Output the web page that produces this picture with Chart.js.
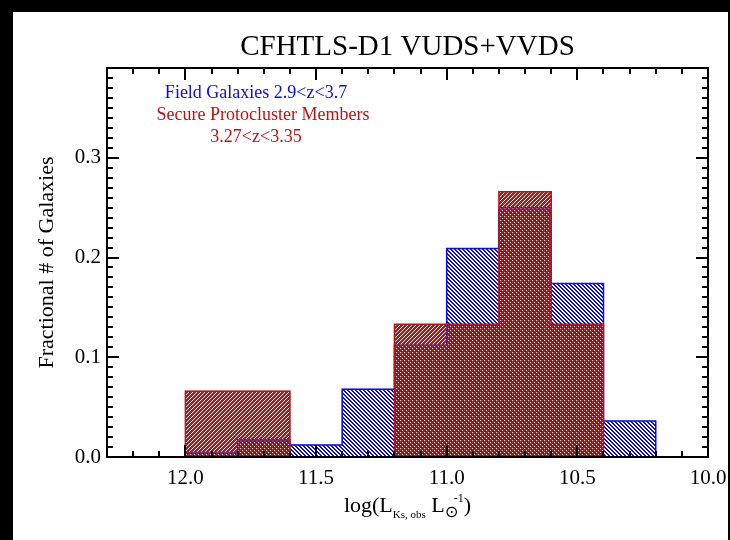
<!DOCTYPE html>
<html>
<head>
<meta charset="utf-8">
<script src="https://cdn.jsdelivr.net/npm/chart.js@4"></script>
<style>
  html, body { margin: 0; padding: 0; background: #000; }
  #frame { position: absolute; left: 13px; top: 12px; width: 715px; height: 528px; background: #fff; }
</style>
</head>
<body>
<div id="frame"><canvas id="histChart" width="715" height="528"></canvas></div>
<script>
// histogram bins (log L, 0.2 dex wide), axis runs high -> low
const binCenters = [11.9, 11.7, 11.5, 11.3, 11.1, 10.9, 10.7, 10.5, 10.3];
const binEdges = [12.0, 11.8, 11.6, 11.4, 11.2, 11.0, 10.8, 10.6, 10.4, 10.2];
const fieldFrac = [0.004, 0.017, 0.012, 0.068, 0.112, 0.209, 0.250, 0.174, 0.036];
const protoFrac = [0.066, 0.066, 0, 0, 0.133, 0.133, 0.266, 0.133, 0];
const xTicks = [12.0, 11.5, 11.0, 10.5, 10.0];
const yTicks = [0.0, 0.1, 0.2, 0.3];
const xMinorStep = 0.1;
const yMinorStep = 0.01;

const BLUE = '#0a0af5';
const RED = '#c01010';
const SERIF = '"Liberation Serif", "Times New Roman", serif';

const canvas = document.getElementById('histChart');
const ctx = canvas.getContext('2d');

// line-fill pattern, dir 1 = "/" , dir -1 = "\"
function hatch(color, dir, on) {
    const c = document.createElement('canvas');
    c.width = c.height = 4;
    const g = c.getContext('2d');
    g.fillStyle = color;
    for (let y = 0; y < 4; y++) {
        for (let x = 0; x < 4; x++) {
            const k = dir > 0 ? (x + y) % 4 : (x - y + 4) % 4;
            if (k < on) g.fillRect(x, y, 1, 1);
        }
    }
    return ctx.createPattern(c, 'repeat');
}

// outline of a histogram as a stepped line
function stepOutline(values) {
    const pts = [{ x: binEdges[0], y: 0 }];
    values.forEach((v, i) => pts.push({ x: binEdges[i], y: v }));
    pts.push({ x: binEdges[values.length], y: 0 });
    return pts;
}

function toPoints(values) {
    return binCenters.map((c, i) => ({ x: c, y: values[i] }));
}

// ================= FRAME, TICKS, TEXT =================
const frameTicks = {
    id: 'frameTicks',
    afterDraw(chart) {
        const { ctx, chartArea: a, scales: { x, y } } = chart;
        ctx.save();
        ctx.strokeStyle = '#000';
        ctx.lineWidth = 2;
        ctx.strokeRect(a.left, a.top, a.right - a.left, a.bottom - a.top);

        ctx.beginPath();
        // x ticks, bottom and top
        for (let v = x.min; v <= x.max + 1e-6; v += xMinorStep) {
            const px = Math.round(x.getPixelForValue(v));
            const major = xTicks.some(t => Math.abs(t - v) < 1e-6);
            const len = major ? 12 : 6;
            ctx.moveTo(px, a.bottom); ctx.lineTo(px, a.bottom - len);
            ctx.moveTo(px, a.top); ctx.lineTo(px, a.top + len);
        }
        // y ticks, left and right
        for (let v = y.min; v <= y.max + 1e-6; v += yMinorStep) {
            const py = Math.round(y.getPixelForValue(v));
            const major = yTicks.some(t => Math.abs(t - v) < 1e-6);
            const len = major ? 12 : 6;
            ctx.moveTo(a.left, py); ctx.lineTo(a.left + len, py);
            ctx.moveTo(a.right, py); ctx.lineTo(a.right - len, py);
        }
        ctx.stroke();

        // title
        ctx.fillStyle = '#000';
        ctx.textAlign = 'center';
        ctx.textBaseline = 'middle';
        ctx.font = '29px ' + SERIF;
        ctx.fillText('CFHTLS-D1 VUDS+VVDS', (a.left + a.right) / 2, 35);

        // legend text
        ctx.font = '18px ' + SERIF;
        ctx.fillStyle = BLUE;
        ctx.fillText('Field Galaxies 2.9<z<3.7', a.left + 149, a.top + 25);
        ctx.fillStyle = RED;
        ctx.fillText('Secure Protocluster Members', a.left + 156, a.top + 47);
        ctx.fillText('3.27<z<3.35', a.left + 149, a.top + 69);

        // x-axis title with sub/superscripts
        const parts = [
            { t: 'log(L', size: 22, dy: 0 },
            { t: 'Ks, obs', size: 11, dy: 6 },
            { t: ' L', size: 22, dy: 0 },
            { t: '\u2299', size: 16, dy: 5 },
            { t: '-1', size: 12, dy: -10, back: 4 },
            { t: ')', size: 22, dy: 0 }
        ];
        ctx.fillStyle = '#000';
        ctx.textAlign = 'left';
        ctx.textBaseline = 'alphabetic';
        let total = 0;
        parts.forEach(p => {
            ctx.font = p.size + 'px ' + SERIF;
            p.w = ctx.measureText(p.t).width;
            total += p.w - (p.back || 0);
        });
        let cx = (a.left + a.right) / 2 - total / 2;
        const base = 500;
        parts.forEach(p => {
            ctx.font = p.size + 'px ' + SERIF;
            cx -= (p.back || 0);
            ctx.fillText(p.t, cx, base + p.dy);
            cx += p.w;
        });
        ctx.restore();
    }
};

// ================= CHART =================
new Chart(canvas, {
    type: 'bar',
    data: {
        datasets: [
            {
                label: 'Secure Protocluster Members',
                data: toPoints(protoFrac),
                backgroundColor: hatch(RED, 1, 3),
                borderWidth: 0,
                grouped: false,
                barPercentage: 1,
                categoryPercentage: 1,
                order: 2
            },
            {
                type: 'line',
                data: stepOutline(protoFrac),
                borderColor: RED,
                borderWidth: 1.5,
                stepped: 'before',
                pointRadius: 0,
                fill: false,
                order: 1
            },
            {
                label: 'Field Galaxies',
                data: toPoints(fieldFrac),
                backgroundColor: hatch(BLUE, -1, 2),
                borderWidth: 0,
                grouped: false,
                barPercentage: 1,
                categoryPercentage: 1,
                order: 4
            },
            {
                type: 'line',
                data: stepOutline(fieldFrac),
                borderColor: BLUE,
                borderWidth: 1.5,
                stepped: 'before',
                pointRadius: 0,
                fill: false,
                order: 3
            }
        ]
    },
    options: {
        responsive: false,
        animation: false,
        layout: { padding: { left: 0, top: 56, right: 20, bottom: 0 } },
        plugins: {
            legend: { display: false },
            title: { display: false },
            tooltip: { enabled: false }
        },
        scales: {
            x: {
                type: 'linear',
                reverse: true,
                min: 10.0,
                max: 12.3,
                offset: false,
                grid: { display: false },
                border: { display: false },
                afterBuildTicks: s => { s.ticks = xTicks.map(v => ({ value: v })); },
                afterFit: s => { s.height = 83; s.paddingLeft = 0; s.paddingRight = 0; },
                ticks: {
                    color: '#000',
                    font: { family: SERIF, size: 21 },
                    padding: 1,
                    maxRotation: 0,
                    callback: v => v.toFixed(1)
                }
            },
            y: {
                min: 0,
                max: 0.39,
                grid: { display: false, drawTicks: false },
                border: { display: false },
                afterBuildTicks: s => { s.ticks = yTicks.map(v => ({ value: v })); },
                afterFit: s => { s.width = 94; s.paddingTop = 0; s.paddingBottom = 0; },
                ticks: {
                    color: '#000',
                    font: { family: SERIF, size: 21 },
                    padding: 6,
                    callback: v => v.toFixed(1)
                },
                title: {
                    display: true,
                    text: 'Fractional # of Galaxies',
                    color: '#000',
                    font: { family: SERIF, size: 22, lineHeight: 1 },
                    padding: { top: 23, bottom: 0 }
                }
            }
        }
    },
    plugins: [frameTicks]
});
</script>
</body>
</html>
